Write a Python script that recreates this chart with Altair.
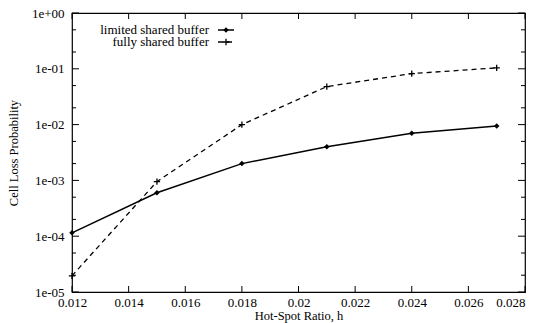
import altair as alt
import pandas as pd

# ---- data ----
h = [0.012, 0.015, 0.018, 0.021, 0.024, 0.027]
limited = [1.15e-4, 6.0e-4, 2.0e-3, 4.0e-3, 7.0e-3, 9.4e-3]
fully = [1.95e-5, 9.5e-4, 1.0e-2, 4.8e-2, 8.2e-2, 1.04e-1]
series_names = ["limited shared buffer", "fully shared buffer"]
x_ticks = [0.012, 0.014, 0.016, 0.018, 0.02, 0.022, 0.024, 0.026, 0.028]
y_ticks = [1e-5, 1e-4, 1e-3, 1e-2, 1e-1, 1.0]
y_minor = [2e-5, 5e-5, 2e-4, 5e-4, 2e-3, 5e-3, 2e-2, 5e-2, 2e-1, 5e-1]

W, H = 453, 279
FONT = "Liberation Serif"

df_lim = pd.DataFrame({"h": h, "p": limited})
df_full = pd.DataFrame({"h": h, "p": fully})
df_xt = pd.DataFrame({"h": x_ticks})
df_yt = pd.DataFrame({"p": y_ticks})
df_ym = pd.DataFrame({"p": y_minor})

xscale = alt.Scale(domain=[0.012, 0.028], nice=False, zero=False)
yscale = alt.Scale(type="log", domain=[1e-5, 1.0], nice=False)

x_axis = alt.Axis(values=x_ticks, format="~g", title="Hot-Spot Ratio, h",
                  grid=False, ticks=False, domain=False, labelPadding=4,
                  labelFlush=False, labelOverlap=False, labelBound=False,
                  labelAlign=alt.condition("datum.value >= 0.0279",
                                           alt.value("right"), alt.value("center")),
                  titlePadding=0, labelFont=FONT, titleFont=FONT,
                  labelFontSize=13, titleFontSize=12.5, titleFontWeight="normal",
                  labelColor="black", titleColor="black")
y_axis = alt.Axis(values=y_ticks,
                  labelExpr="'1e' + (datum.value >= 1 ? '+00' : '-0' + round(-log(datum.value)/LN10))",
                  title="Cell Loss Probability", grid=False, ticks=False,
                  domain=False, labelPadding=8, titlePadding=11,
                  labelFlush=False, labelOverlap=False, labelBound=False,
                  labelFont=FONT, titleFont=FONT, labelFontSize=13,
                  titleFontSize=12.5, titleFontWeight="normal",
                  labelColor="black", titleColor="black")

X = alt.X("h:Q", scale=xscale, axis=x_axis)
Y = alt.Y("p:Q", scale=yscale, axis=y_axis)

plus_shape = "M-1,0L1,0M0,-1L0,1"

line_lim = alt.Chart(df_lim).mark_line(color="black", strokeWidth=1.5).encode(x=X, y=Y)
pts_lim = alt.Chart(df_lim).mark_point(shape="diamond", filled=True, color="black",
                                       size=30, opacity=1).encode(x=X, y=Y)
line_full = alt.Chart(df_full).mark_line(color="black", strokeWidth=1.3,
                                         strokeDash=[5, 4]).encode(x=X, y=Y)
pts_full = alt.Chart(df_full).mark_point(shape=plus_shape, filled=False, color="black",
                                         size=40, strokeWidth=1.3, opacity=1).encode(x=X, y=Y)

# inward ticks on all four sides
xt_bot = alt.Chart(df_xt).mark_rule(color="black", strokeWidth=1).encode(
    x=X, y=alt.value(H), y2=alt.value(H - 6))
xt_top = alt.Chart(df_xt).mark_rule(color="black", strokeWidth=1).encode(
    x=X, y=alt.value(0), y2=alt.value(6))
yt_left = alt.Chart(df_yt).mark_rule(color="black", strokeWidth=1).encode(
    y=Y, x=alt.value(0), x2=alt.value(7))
yt_right = alt.Chart(df_yt).mark_rule(color="black", strokeWidth=1).encode(
    y=Y, x=alt.value(W), x2=alt.value(W - 7))
ym_left = alt.Chart(df_ym).mark_rule(color="black", strokeWidth=1).encode(
    y=Y, x=alt.value(0), x2=alt.value(4))
ym_right = alt.Chart(df_ym).mark_rule(color="black", strokeWidth=1).encode(
    y=Y, x=alt.value(W), x2=alt.value(W - 4))

# legend (inside, top-left)
leg1 = pd.DataFrame({"t": [series_names[0]]})
leg2 = pd.DataFrame({"t": [series_names[1]]})
lt1 = alt.Chart(leg1).mark_text(align="right", baseline="middle", font=FONT,
                                fontSize=13, color="black").encode(
    text="t:N", x=alt.value(137), y=alt.value(17))
lt2 = alt.Chart(leg2).mark_text(align="right", baseline="middle", font=FONT,
                                fontSize=13, color="black").encode(
    text="t:N", x=alt.value(137), y=alt.value(29))
ll1 = alt.Chart(leg1).mark_rule(color="black", strokeWidth=1.5).encode(
    x=alt.value(146), x2=alt.value(162), y=alt.value(17))
ll2 = alt.Chart(leg2).mark_rule(color="black", strokeWidth=1.3, strokeDash=[5, 4]).encode(
    x=alt.value(146), x2=alt.value(162), y=alt.value(29))
lp1 = alt.Chart(leg1).mark_point(shape="diamond", filled=True, color="black",
                                 size=30, opacity=1).encode(x=alt.value(154), y=alt.value(17))
lp2 = alt.Chart(leg2).mark_point(shape=plus_shape, filled=False, color="black",
                                 size=40, strokeWidth=1.3, opacity=1).encode(
    x=alt.value(154), y=alt.value(29))

chart = alt.layer(
    line_lim, pts_lim, line_full, pts_full,
    xt_bot, xt_top, yt_left, yt_right, ym_left, ym_right,
    lt1, lt2, ll1, ll2, lp1, lp2,
).properties(
    width=W, height=H,
    background="white",
    autosize=alt.AutoSizeParams(type="none"),
    padding={"left": 64, "top": 5, "right": 7, "bottom": 34},
).configure_view(
    stroke="black", strokeWidth=1.2
)

chart.save("out.html", embed_options={"renderer": "svg", "actions": False})
